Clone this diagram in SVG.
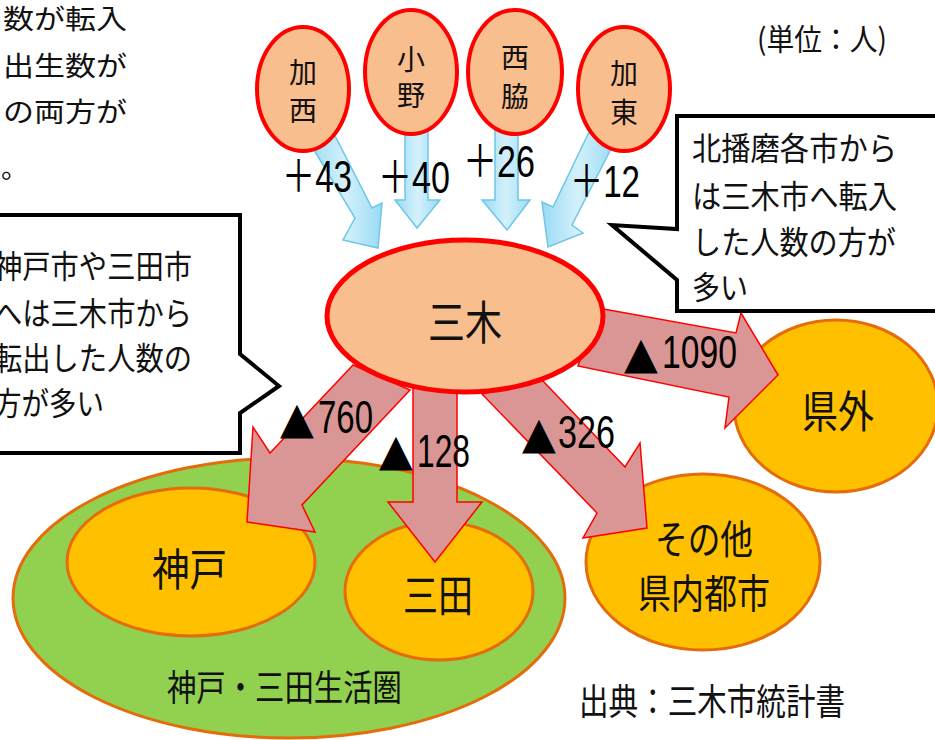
<svg xmlns="http://www.w3.org/2000/svg" width="935" height="740" viewBox="0 0 935 740">
<defs>
<linearGradient id="blueg" x1="0" y1="0" x2="1" y2="0">
<stop offset="0" stop-color="#9ADBF4"/>
<stop offset="0.5" stop-color="#D4F1FB"/>
<stop offset="1" stop-color="#9ADBF4"/>
</linearGradient>
<style>
.jp{font-family:"Noto Sans CJK JP","Noto Sans CJK SC",sans-serif;fill:#111}
.num{font-family:"Liberation Sans","Noto Sans CJK JP",sans-serif;fill:#000}
.tri{font-family:"DejaVu Sans","Noto Sans CJK JP",sans-serif;fill:#000;font-size:44px}
.peach{fill:#F9BE8E;stroke:#FF0000;stroke-width:4}
.orange{fill:#FFC000;stroke:#E46C0A;stroke-width:3}
.blue{fill:url(#blueg);stroke:#6EC6E8;stroke-width:1.5;stroke-linejoin:miter}
.pink{fill:#D99694;stroke:#FF0000;stroke-width:1.5;stroke-linejoin:miter}
.callout{fill:#FFFFFF;stroke:#000;stroke-width:4;stroke-linejoin:miter}
</style>
</defs>
<rect x="0" y="0" width="935" height="740" fill="#FFFFFF"/>

<!-- top-left partial text -->
<g id="note-topleft" class="jp" font-size="27">
<text x="3" y="29" textLength="124" lengthAdjust="spacingAndGlyphs">数が転入</text>
<text x="3" y="76" textLength="124" lengthAdjust="spacingAndGlyphs">出生数が</text>
<text x="3" y="122" textLength="124" lengthAdjust="spacingAndGlyphs">の両方が</text>
<text x="1" y="178">。</text>
</g>

<g id="unit" class="jp" font-size="30">
<text x="757" y="50" textLength="130" lengthAdjust="spacingAndGlyphs">(単位：人)</text>
</g>

<!-- bottom nodes -->
<g id="node-kobe-sanda-area">
<ellipse cx="289" cy="598" rx="276" ry="140" fill="#92D050" stroke="#E46C0A" stroke-width="3"/>
<text class="jp" x="167" y="701" font-size="36" textLength="235" lengthAdjust="spacingAndGlyphs">神戸・三田生活圏</text>
</g>
<g id="node-kobe">
<ellipse class="orange" cx="191" cy="562" rx="124" ry="74"/>
<text class="jp" x="152" y="586" font-size="44" textLength="75" lengthAdjust="spacingAndGlyphs">神戸</text>
</g>
<g id="node-sanda">
<ellipse class="orange" cx="439" cy="591" rx="94" ry="69"/>
<text class="jp" x="403" y="612" font-size="44" textLength="70" lengthAdjust="spacingAndGlyphs">三田</text>
</g>
<g id="node-kengai">
<ellipse class="orange" cx="836" cy="406" rx="102" ry="86"/>
<text class="jp" x="802" y="428" font-size="44" textLength="72" lengthAdjust="spacingAndGlyphs">県外</text>
</g>
<g id="node-other">
<ellipse class="orange" cx="703" cy="562" rx="117" ry="88"/>
<text class="jp" x="655" y="554" font-size="40" textLength="98" lengthAdjust="spacingAndGlyphs">その他</text>
<text class="jp" x="638" y="608" font-size="40" textLength="132" lengthAdjust="spacingAndGlyphs">県内都市</text>
</g>

<!-- connectors -->
<g id="connectors">
<polygon class="blue" points="308,140 355,218 343,240 378,248 382,203 372,208 333,132"/>
<polygon class="blue" points="405,120 405,200 395,200 417,228 440,200 428,200 428,120"/>
<polygon class="blue" points="495,120 495,200 482,200 507,230 530,200 518,200 518,120"/>
<polygon class="blue" points="590,130 553,207 542,202 548,247 583,233 572,225 614,143"/>
<polygon class="pink" points="353,365 270,453 253,427 247,522 315,532 302,505 410,390"/>
<polygon class="pink" points="413,385 413,502 388,502 435,562 482,502 457,502 457,385"/>
<polygon class="pink" points="543,381 625,467 640,443 647,528 583,538 597,513 482,394"/>
<polygon class="pink" points="598,308 736,333 741,313 778,375 725,428 729,397 578,366"/>
</g>

<!-- top nodes -->
<g id="node-kasai">
<ellipse class="peach" cx="303" cy="89" rx="46" ry="62"/>
<text class="jp" font-size="28" text-anchor="middle" fill="#333"><tspan x="303" y="83">加</tspan><tspan x="303" y="121">西</tspan></text>
</g>
<g id="node-ono">
<ellipse class="peach" cx="411" cy="72" rx="46" ry="62"/>
<text class="jp" font-size="28" text-anchor="middle" fill="#333"><tspan x="411" y="70">小</tspan><tspan x="411" y="106">野</tspan></text>
</g>
<g id="node-nishiwaki">
<ellipse class="peach" cx="515" cy="72" rx="47" ry="62"/>
<text class="jp" font-size="28" text-anchor="middle" fill="#333"><tspan x="515" y="68">西</tspan><tspan x="515" y="107">脇</tspan></text>
</g>
<g id="node-kato">
<ellipse class="peach" cx="624" cy="89" rx="46" ry="62"/>
<text class="jp" font-size="28" text-anchor="middle" fill="#333"><tspan x="624" y="84">加</tspan><tspan x="624" y="123">東</tspan></text>
</g>

<!-- center node -->
<g id="node-miki">
<ellipse cx="465" cy="316" rx="138" ry="76" fill="#F9BE8E" stroke="#FF0000" stroke-width="5"/>
<text class="jp" x="428" y="339" font-size="46" textLength="74" lengthAdjust="spacingAndGlyphs">三木</text>
</g>

<!-- flow labels -->
<g id="labels" class="num" font-size="44">
<text x="282" y="192" textLength="70" lengthAdjust="spacingAndGlyphs">＋43</text>
<text x="378" y="193" textLength="72" lengthAdjust="spacingAndGlyphs">＋40</text>
<text x="463" y="177" textLength="72" lengthAdjust="spacingAndGlyphs">＋26</text>
<text x="570" y="197" textLength="70" lengthAdjust="spacingAndGlyphs">＋12</text>
<text x="280" y="433"><tspan class="tri">▲</tspan><tspan x="318" font-size="46" textLength="55" lengthAdjust="spacingAndGlyphs">760</tspan></text>
<text x="379" y="465"><tspan class="tri">▲</tspan><tspan x="417" y="467" font-size="46" textLength="53" lengthAdjust="spacingAndGlyphs">128</tspan></text>
<text x="522" y="448"><tspan class="tri">▲</tspan><tspan x="558" font-size="46" textLength="57" lengthAdjust="spacingAndGlyphs">326</tspan></text>
<text x="624" y="368"><tspan class="tri">▲</tspan><tspan x="662" font-size="46" textLength="75" lengthAdjust="spacingAndGlyphs">1090</tspan></text>
</g>

<!-- callouts -->
<g id="callout-right">
<path class="callout" d="M 945,116 H 677 V 229 L 612,225 L 677,280 V 311 H 945"/>
<g class="jp" font-size="32">
<text x="692" y="160" textLength="205" lengthAdjust="spacingAndGlyphs">北播磨各市から</text>
<text x="692" y="208" textLength="205" lengthAdjust="spacingAndGlyphs">は三木市へ転入</text>
<text x="692" y="254" textLength="204" lengthAdjust="spacingAndGlyphs">した人数の方が</text>
<text x="692" y="299" textLength="56" lengthAdjust="spacingAndGlyphs">多い</text>
</g>
</g>
<g id="callout-left">
<path class="callout" d="M -10,215 H 240 V 354 L 279,386 L 240,413 V 453 H -10"/>
<g class="jp" font-size="32">
<text x="-6" y="278" textLength="198" lengthAdjust="spacingAndGlyphs">神戸市や三田市</text>
<text x="-6" y="325" textLength="198" lengthAdjust="spacingAndGlyphs">へは三木市から</text>
<text x="-6" y="370" textLength="198" lengthAdjust="spacingAndGlyphs">転出した人数の</text>
<text x="-6" y="415" textLength="110" lengthAdjust="spacingAndGlyphs">方が多い</text>
</g>
</g>

<g id="source" class="jp" font-size="36">
<text x="579" y="715" textLength="266" lengthAdjust="spacingAndGlyphs">出典：三木市統計書</text>
</g>
</svg>
